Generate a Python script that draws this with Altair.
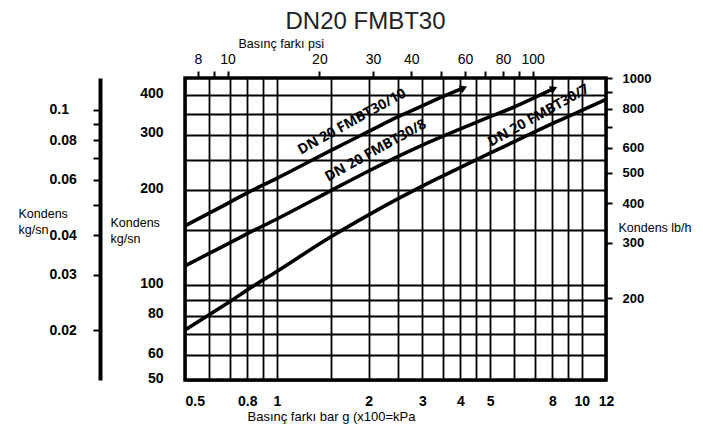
import altair as alt
import numpy as np
import pandas as pd

title_text = "DN20 FMBT30"

# Curves (bar g -> kg/h)
c10_bar = [0.5, 0.6, 0.7, 0.8, 1.0, 1.5, 2.0, 2.5, 3.0, 3.5, 4.1]
c10_kgh = [154, 169, 183, 196, 218, 267, 307, 342, 370, 396, 422]
c8_bar = [0.5, 0.6, 0.7, 0.8, 1.0, 1.5, 2.0, 2.5, 3.0, 4.0, 5.0, 6.0, 7.0, 8.1]
c8_kgh = [115, 126, 136, 145.5, 162, 199, 230, 256, 278, 313, 342, 367, 393, 420]
c7_bar = [0.5, 0.6, 0.7, 0.8, 1.0, 1.5, 2.0, 2.5, 3.0, 4.0, 5.0, 6.0, 8.0, 10.0, 12.0]
c7_kgh = [72, 80.5, 88.5, 96.5, 110.5, 142, 167, 188, 206, 236, 262, 285, 325, 358, 388]

series_names = ["DN 20 FMBT30/10", "DN 20 FMBT30/8", "DN 20 FMBT30/7"]
label_at_bar = [1.87, 2.23, 7.57]
label_dy = [-16, -15, -13]
arrow_series = [True, True, False]

# axis ticks / labels
bar_ticks = [0.5, 0.6, 0.7, 0.8, 0.9, 1, 1.5, 2, 2.5, 3, 3.5, 4, 4.5, 5, 6, 7, 8, 9, 10, 12]
bar_labels = [0.5, 0.8, 1, 2, 3, 4, 5, 8, 10, 12]
kgh_ticks = [50, 60, 70, 80, 90, 100, 150, 200, 250, 300, 350, 400]
kgh_labels = [50, 60, 80, 100, 200, 300, 400]
psi_ticks = [8, 9, 10, 20, 30, 40, 50, 60, 70, 80, 90, 100]
psi_labels = [8, 10, 20, 30, 40, 60, 80, 100]
lbh_ticks = [200, 300, 400, 500, 600, 700, 800, 900, 1000]
lbh_labels = [200, 300, 400, 500, 600, 800, 1000]
kgs_ticks = [0.02, 0.03, 0.04, 0.05, 0.06, 0.07, 0.08, 0.09, 0.1]
kgs_labels = [0.02, 0.03, 0.04, 0.06, 0.08, 0.1]

bar_domain = [0.5, 12]
lbh_domain = [110.231, 1000]
BAR_TO_PSI = 14.5038
KG_TO_LB = 2.20462
kgh_domain = [lbh_domain[0] / KG_TO_LB, lbh_domain[1] / KG_TO_LB]
psi_domain = [bar_domain[0] * BAR_TO_PSI, bar_domain[1] * BAR_TO_PSI]
kgs_domain = [kgh_domain[0] / 3600, kgh_domain[1] / 3600]

FONT = "Liberation Sans"


def label_expr(vals):
    return "indexof([" + ",".join(str(v) for v in vals) + "], datum.value) >= 0 ? datum.label : ''"


curves = [(c10_bar, c10_kgh), (c8_bar, c8_kgh), (c7_bar, c7_kgh)]
rows = []
for name, (bx, ky) in zip(series_names, curves):
    for b, k in zip(bx, ky):
        rows.append({"series": name, "bar": b, "kgh": k})
curve_df = pd.DataFrame(rows)

xenc = alt.X(
    "bar:Q",
    scale=alt.Scale(type="log", domain=bar_domain, nice=False),
    axis=alt.Axis(
        values=bar_ticks, format="~g", labelExpr=label_expr(bar_labels),
        grid=True, gridColor="black", gridWidth=1.8, gridOpacity=1,
        ticks=False, tickSize=0, domain=False, labelPadding=14,
        labelFont=FONT, labelFontSize=14, labelFontWeight="bold", labelColor="black",
        labelOverlap=False, labelFlush=False, labelBound=False,
        labelAlign={"condition": {"test": "datum.value === 0.5", "value": "left"}, "value": "center"},
        title="Basınç farkı bar g (x100=kPa", titleFont=FONT, titleFontSize=13,
        titleFontWeight="normal", titleColor="black", titleX=62, titleY=36,
        titleAlign="left", titleBaseline="middle",
    ),
)
yenc = alt.Y(
    "kgh:Q",
    scale=alt.Scale(type="log", domain=kgh_domain, nice=False),
    axis=alt.Axis(
        values=kgh_ticks, format="~g", labelExpr=label_expr(kgh_labels),
        grid=True, gridColor="black", gridWidth=1.8, gridOpacity=1,
        ticks=False, tickSize=0, domain=False, labelPadding=22, labelOffset=-2,
        labelFont=FONT, labelFontSize=14, labelFontWeight="bold", labelColor="black",
        labelOverlap=False, labelBound=False, labelFlush=False,
        title=["Kondens", "kg/sn"], titleFont=FONT, titleFontSize=12.5,
        titleFontWeight="normal", titleColor="black", titleAngle=0,
        titleAlign="left", titleBaseline="middle", titleX=-75, titleY=144,
        titleLineHeight=16,
    ),
)

lines = alt.Chart(curve_df).mark_line(
    color="black", strokeWidth=3.6, interpolate="monotone"
).encode(x=xenc, y=yenc, detail="series:N")

layers = [lines]
for name, (bx, ky), at, dy, arrow in zip(series_names, curves, label_at_bar, label_dy, arrow_series):
    kv = float(np.exp(np.interp(np.log(at), np.log(bx), np.log(ky))))
    ldf = pd.DataFrame({"bar": [at], "kgh": [kv], "label": [name]})
    layers.append(
        alt.Chart(ldf).mark_text(
            font="Open Sans", fontWeight="bold", fontSize=14, angle=331,
            dy=dy, align="center", baseline="middle", color="black",
        ).encode(x=xenc, y=yenc, text="label:N")
    )
    if arrow:
        adf = pd.DataFrame({"bar": [bx[-1]], "kgh": [ky[-1]]})
        layers.append(
            alt.Chart(adf).mark_point(
                shape="triangle-right", filled=True, size=70, angle=336,
                color="black", opacity=1,
            ).encode(x=xenc, y=yenc)
        )

inner = alt.layer(*layers)

psi_layer = alt.Chart(pd.DataFrame({"psi": psi_ticks})).mark_point(opacity=0).encode(
    x=alt.X(
        "psi:Q",
        scale=alt.Scale(type="log", domain=psi_domain, nice=False),
        axis=alt.Axis(
            orient="top", values=psi_ticks, format="~g", labelExpr=label_expr(psi_labels),
            grid=False, domain=False, ticks=True, tickSize=7, tickWidth=2, tickColor="black",
            labelPadding=5, labelFont=FONT, labelFontSize=14, labelFontWeight="normal",
            labelColor="black", labelOverlap=False, labelFlush=False, labelBound=False,
            title="Basınç farkı psi", titleFont=FONT, titleFontSize=12.5,
            titleFontWeight="normal", titleColor="black", titleX=53, titleY=-35,
            titleAlign="left", titleBaseline="middle",
        ),
    )
)

lbh_layer = alt.Chart(pd.DataFrame({"lbh": lbh_ticks})).mark_point(opacity=0).encode(
    y=alt.Y(
        "lbh:Q",
        scale=alt.Scale(type="log", domain=lbh_domain, nice=False),
        axis=alt.Axis(
            orient="right", values=lbh_ticks, format="~g", labelExpr=label_expr(lbh_labels),
            grid=False, domain=False, ticks=True, tickSize=6, tickWidth=2, tickColor="black",
            labelPadding=10, labelFont=FONT, labelFontSize=13, labelFontWeight="bold",
            labelColor="black", labelOverlap=False, labelFlush=False, labelBound=False,
            title="Kondens lb/h", titleFont=FONT, titleFontSize=12.5,
            titleFontWeight="normal", titleColor="black", titleAngle=0,
            titleAlign="left", titleBaseline="middle", titleX=12, titleY=149,
        ),
    )
)

kgs_layer = alt.Chart(pd.DataFrame({"kgs": kgs_ticks})).mark_point(opacity=0).encode(
    y=alt.Y(
        "kgs:Q",
        scale=alt.Scale(type="log", domain=kgs_domain, nice=False),
        axis=alt.Axis(
            orient="left", offset=85, values=kgs_ticks, format="~g",
            labelExpr=label_expr(kgs_labels),
            grid=False, domain=True, domainWidth=4, domainColor="black",
            ticks=True, tickSize=7, tickWidth=2, tickColor="black",
            labelPadding=44, labelAlign="left", labelFont=FONT, labelFontSize=14,
            labelFontWeight="bold", labelColor="black", labelOverlap=False,
            labelFlush=False, labelBound=False,
            title=["Kondens", "kg/sn"], titleFont=FONT, titleFontSize=12.5,
            titleFontWeight="normal", titleColor="black", titleAngle=0,
            titleAlign="left", titleBaseline="middle", titleX=-82, titleY=135,
            titleLineHeight=16,
        ),
    )
)

chart = (
    alt.layer(inner, psi_layer, lbh_layer, kgs_layer)
    .resolve_scale(x="independent", y="independent")
    .properties(
        width=421,
        height=302,
        autosize=alt.AutoSizeParams(type="none"),
        padding={"left": 177, "top": 70, "right": 89, "bottom": 47},
        title=alt.TitleParams(
            title_text, font=FONT, fontSize=24, fontWeight="normal", color="#222222",
            anchor="middle", dx=-30, dy=1, offset=4,
        ),
        background="white",
    )
    .configure_view(stroke="black", strokeWidth=3.5)
)

chart.save("out.html", embed_options={"renderer": "svg", "actions": False})
